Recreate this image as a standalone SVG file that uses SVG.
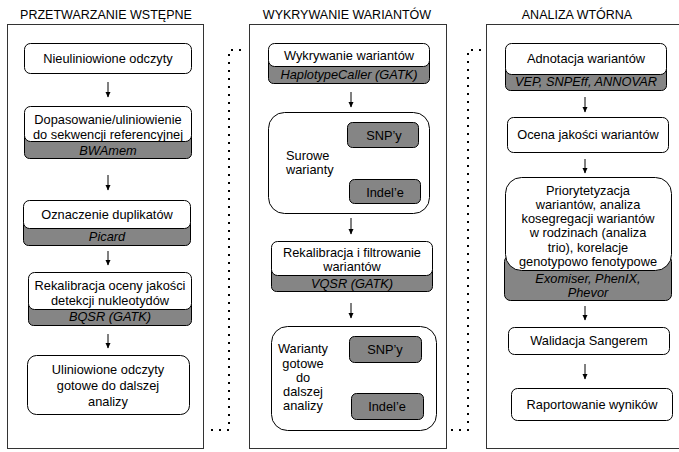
<svg xmlns="http://www.w3.org/2000/svg" width="679" height="452" viewBox="0 0 679 452">
<defs>
<marker id="ah" markerWidth="6" markerHeight="6" refX="5" refY="3" orient="auto" markerUnits="userSpaceOnUse">
<path d="M0,0.5 L5.5,3 L0,5.5 Z" fill="#000"/>
</marker>
<style>
text{font-family:"Liberation Sans",Arial,sans-serif;fill:#000;font-size:12.8px;text-anchor:middle}
.title{font-size:12.5px}
.it{font-style:italic}
.l{text-anchor:start}
.panel{fill:#fff;stroke:#333;stroke-width:1}
.wb{fill:#fff;stroke:#000;stroke-width:1}
.gb{fill:#858585;stroke:#000;stroke-width:1}
.arr{stroke:#000;stroke-width:1;fill:none;marker-end:url(#ah)}
.dot{stroke:#000;stroke-width:2;fill:none;stroke-dasharray:2 6}
</style>
</defs>
<rect width="679" height="452" fill="#fff"/>

<g id="panel1">
<text class="title" x="106" y="19">PRZETWARZANIE WSTĘPNE</text>
<rect class="panel" x="7.5" y="24.5" width="196" height="424"/>
</g>
<g id="panel2">
<text class="title" x="347" y="19">WYKRYWANIE WARIANTÓW</text>
<rect class="panel" x="249.5" y="24.5" width="197" height="424"/>
</g>
<g id="panel3">
<text class="title" x="577" y="19">ANALIZA WTÓRNA</text>
<rect class="panel" x="486.5" y="24.5" width="200" height="424"/>
</g>

<g id="connectors">
<polyline class="dot" points="211,430 229,430 229,50 247,50"/>
<polyline class="dot" points="451,430 468,430 468,50 486,50"/>
<line class="arr" x1="108" y1="82" x2="108" y2="97"/>
<line class="arr" x1="108" y1="175" x2="108" y2="190"/>
<line class="arr" x1="108" y1="251" x2="108" y2="265"/>
<line class="arr" x1="108" y1="334" x2="108" y2="348"/>
<line class="arr" x1="351" y1="92" x2="351" y2="107"/>
<line class="arr" x1="351" y1="218" x2="351" y2="234"/>
<line class="arr" x1="351" y1="303" x2="351" y2="318"/>
<line class="arr" x1="585" y1="97" x2="585" y2="112"/>
<line class="arr" x1="585" y1="159" x2="585" y2="173"/>
<line class="arr" x1="585" y1="306" x2="585" y2="320"/>
<line class="arr" x1="585" y1="364" x2="585" y2="379"/>
</g>

<!-- Panel 1 nodes -->
<g id="n-nieuliniowione">
<rect class="wb" x="24.5" y="43.5" width="167" height="30" rx="6"/>
<text x="108" y="63">Nieuliniowione odczyty</text>
</g>
<g id="n-dopasowanie">
<rect class="gb" x="24.5" y="128.5" width="167" height="30" rx="5"/>
<rect class="wb" x="24.5" y="106.5" width="167" height="35" rx="6"/>
<text x="108" y="124">Dopasowanie/uliniowienie</text>
<text x="108" y="139">do sekwencji referencyjnej</text>
<text class="it" x="108" y="155">BWAmem</text>
</g>
<g id="n-oznaczenie">
<rect class="gb" x="23.5" y="215.5" width="167" height="30" rx="5"/>
<rect class="wb" x="23.5" y="200.5" width="167" height="28" rx="6"/>
<text x="107" y="219">Oznaczenie duplikatów</text>
<text class="it" x="107" y="241">Picard</text>
</g>
<g id="n-rekalibracja1">
<rect class="gb" x="28.5" y="295.5" width="163" height="30" rx="5"/>
<rect class="wb" x="28.5" y="272.5" width="163" height="37" rx="6"/>
<text x="110" y="290">Rekalibracja oceny jakości</text>
<text x="110" y="305">detekcji nukleotydów</text>
<text class="it" x="110" y="321">BQSR (GATK)</text>
</g>
<g id="n-uliniowione">
<rect class="wb" x="27.5" y="355.5" width="162" height="59" rx="9"/>
<text x="108" y="374">Uliniowione odczyty</text>
<text x="108" y="390">gotowe do dalszej</text>
<text x="108" y="406">analizy</text>
</g>

<!-- Panel 2 nodes -->
<g id="n-wykrywanie">
<rect class="gb" x="268.5" y="55.5" width="161" height="28" rx="5"/>
<rect class="wb" x="268.5" y="43.5" width="161" height="23" rx="6"/>
<text x="349" y="60">Wykrywanie wariantów</text>
<text class="it" x="349" y="79">HaplotypeCaller (GATK)</text>
</g>
<g id="n-surowe">
<rect class="wb" x="268.5" y="112.5" width="161" height="101" rx="16"/>
<rect class="gb" x="347.5" y="122.5" width="71" height="25" rx="5"/>
<rect class="gb" x="349.5" y="179.5" width="71" height="24" rx="5"/>
<text x="384" y="140">SNP’y</text>
<text x="385" y="197">Indel’e</text>
<text class="l" x="286" y="160">Surowe</text>
<text class="l" x="286" y="174">warianty</text>
</g>
<g id="n-rekalibracja2">
<rect class="gb" x="271.5" y="260.5" width="161" height="31" rx="5"/>
<rect class="wb" x="271.5" y="241.5" width="161" height="34" rx="6"/>
<text x="352" y="257">Rekalibracja i filtrowanie</text>
<text x="352" y="271">wariantów</text>
<text class="it" x="352" y="288">VQSR (GATK)</text>
</g>
<g id="n-gotowe">
<rect class="wb" x="271.5" y="326.5" width="165" height="104" rx="16"/>
<rect class="gb" x="349.5" y="336.5" width="72" height="26" rx="5"/>
<rect class="gb" x="351.5" y="393.5" width="72" height="26" rx="5"/>
<text x="385" y="354">SNP’y</text>
<text x="387" y="411">Indel’e</text>
<text x="303" y="353">Warianty</text>
<text x="303" y="368">gotowe</text>
<text x="303" y="382">do</text>
<text x="303" y="396">dalszej</text>
<text x="303" y="410">analizy</text>
</g>

<!-- Panel 3 nodes -->
<g id="n-adnotacja">
<rect class="gb" x="505.5" y="60.5" width="161" height="30" rx="5"/>
<rect class="wb" x="505.5" y="43.5" width="161" height="31" rx="6"/>
<text x="586" y="63">Adnotacja wariantów</text>
<text class="it" x="586" y="86">VEP, SNPEff, ANNOVAR</text>
</g>
<g id="n-ocena">
<rect class="wb" x="507.5" y="117.5" width="161" height="35" rx="6"/>
<text x="588" y="139">Ocena jakości wariantów</text>
</g>
<g id="n-priorytetyzacja">
<rect class="gb" x="504.5" y="255.5" width="167" height="45" rx="6"/>
<rect class="wb" x="505.5" y="177.5" width="166" height="93" rx="16"/>
<text x="588" y="195">Priorytetyzacja</text>
<text x="588" y="209">wariantów, analiza</text>
<text x="588" y="223">kosegregacji wariantów</text>
<text x="588" y="237">w rodzinach (analiza</text>
<text x="588" y="252">trio), korelacje</text>
<text x="588" y="266">genotypowo fenotypowe</text>
<text class="it" x="588" y="283">Exomiser, PhenIX,</text>
<text class="it" x="588" y="297">Phevor</text>
</g>
<g id="n-walidacja">
<rect class="wb" x="508.5" y="327.5" width="161" height="27" rx="6"/>
<text x="589" y="345">Walidacja Sangerem</text>
</g>
<g id="n-raportowanie">
<rect class="wb" x="511.5" y="388.5" width="161" height="32" rx="6"/>
<text x="592" y="409">Raportowanie wyników</text>
</g>
</svg>
